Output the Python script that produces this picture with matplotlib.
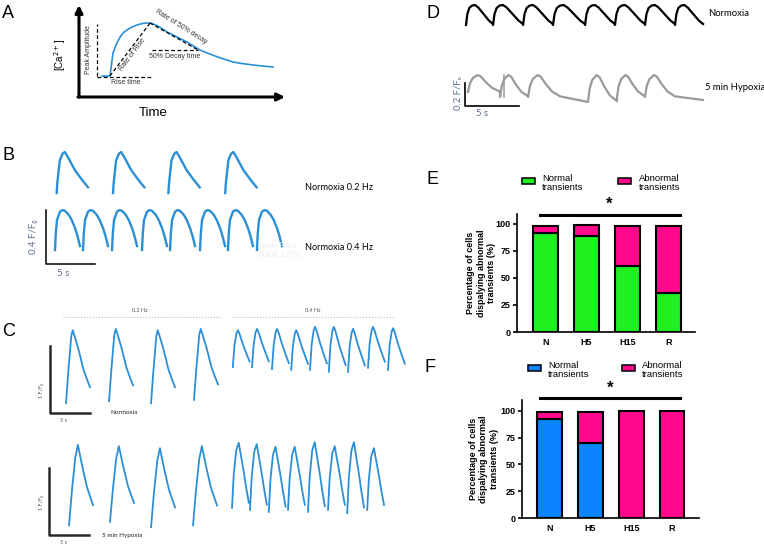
import matplotlib.pyplot as plt
import numpy as np
from matplotlib.patches import Rectangle

W, H = 764, 551
BLUE = '#2b8fd6'
SLATE = '#5a6d8c'
GREEN = '#1ff01f'
PINK = '#ff0a8c'
BAR_BLUE = '#0a84ff'
ARIAL = 'Liberation Sans'
CALIBRI = ['Lato', 'DejaVu Sans']

# ---- panel A: schematic transient (arbitrary units) ----
A_T = [1.12, 1.50, 1.58, 1.65, 1.77, 1.89, 2.02, 2.14, 2.31, 2.48, 2.65, 2.82, 3.01, 3.20,
       3.45, 3.64, 3.83, 4.05, 4.27, 4.52, 4.76, 5.00, 5.24, 5.55, 5.87, 6.23, 6.60,
       7.04, 7.48, 7.97, 8.45, 8.94, 9.42]
A_CA = [0.228, 0.228, 0.36, 0.478, 0.55, 0.609, 0.66, 0.696, 0.726, 0.75, 0.768, 0.783, 0.795, 0.804,
        0.804, 0.790, 0.772, 0.740, 0.707, 0.680, 0.652, 0.625, 0.598, 0.555, 0.511, 0.478, 0.446,
        0.412, 0.380, 0.362, 0.348, 0.336, 0.326]
A_ONSET, A_PEAK_T, A_HALF_T = 1.50, 3.45, 5.78
A_BASE, A_PEAK, A_HALF = 0.228, 0.804, 0.511

# ---- panel B: normoxia 0.2 / 0.4 Hz (s, F/F0) ----
B_TOP_ONSET = [1.7, 7.45, 13.1, 18.9]
B_TOP_BASE, B_TOP_PEAK, B_TOP_DUR = 0.57, 0.874, 3.2
B_BOT_ONSET = [1.53, 4.39, 7.35, 10.41, 13.27, 16.33, 19.18, 22.14]
B_BOT_BASE, B_BOT_PEAK, B_BOT_DUR = 0.148, 0.444, 2.55
B_SHAPE_TOP = ([0, 0.02, 0.1, 0.19, 0.26, 0.37, 0.58, 0.79, 1.0],
               [0, 0.24, 0.8, 0.96, 1.0, 0.86, 0.56, 0.34, 0.14])
B_SHAPE_BOT = ([0, 0.03, 0.08, 0.2, 0.3, 0.4, 0.55, 0.67, 0.8, 0.9, 1.0],
               [0, 0.4, 0.75, 0.96, 1.0, 0.98, 0.88, 0.75, 0.55, 0.35, 0.1])

# ---- panel C: normoxia / 5 min hypoxia at 0.2 and 0.4 Hz ----
C_N02_ONSET = [3.25, 8.63, 13.88, 19.25]
C_N02_BASE = [2.19, 2.22, 2.19, 2.24]
C_N02_PEAK = [3.28, 3.30, 3.28, 3.30]
C_N04_ONSET = [24.1, 26.5, 29.0, 31.4, 33.75, 36.1, 38.5, 41.0, 43.5]
C_N04_BASE = [2.73, 2.73, 2.70, 2.69, 2.69, 2.66, 2.66, 2.72, 2.69]
C_N04_PEAK = [3.28, 3.30, 3.30, 3.28, 3.33, 3.33, 3.30, 3.33, 3.31]
C_H02_ONSET = [3.63, 8.75, 13.88, 19.13]
C_H02_BASE = [0.37, 0.42, 0.34, 0.37]
C_H02_PEAK = [1.57, 1.55, 1.52, 1.55]
C_H04_ONSET = [24.0, 26.25, 28.6, 31.0, 33.5, 36.0, 38.4, 40.9]
C_H04_BASE = [0.63, 0.60, 0.57, 0.60, 0.57, 0.60, 0.55, 0.60]
C_H04_PEAK = [1.60, 1.58, 1.54, 1.54, 1.61, 1.55, 1.61, 1.52]
C_DUR_02, C_DUR_04 = 3.0, 2.1
C_SHAPE_N02 = ([0, 0.1, 0.22, 0.28, 0.375, 0.5, 0.58, 0.72, 0.86, 1.0],
               [0, 0.45, 0.92, 1.0, 0.9, 0.76, 0.66, 0.47, 0.34, 0.22])
C_SHAPE_H02 = ([0, 0.12, 0.26, 0.37, 0.45, 0.56, 0.75, 1.0],
               [0, 0.43, 0.84, 1.0, 0.88, 0.72, 0.47, 0.25])
C_SHAPE_N04 = ([0, 0.1, 0.22, 0.3, 0.4, 0.6, 0.8, 1.0],
               [0, 0.6, 0.92, 1.0, 0.9, 0.62, 0.38, 0.15])
C_SHAPE_H04 = ([0, 0.1, 0.25, 0.4, 0.5, 0.7, 0.85, 1.0],
               [0, 0.5, 0.88, 1.0, 0.85, 0.55, 0.3, 0.08])

# ---- panel D: normoxia vs 5 min hypoxia ----
D_N_ONSET = [1.02, 3.52, 6.30, 9.07, 12.04, 14.81, 17.59, 20.37]
D_N_DUR = [2.5, 2.78, 2.77, 2.97, 2.77, 2.78, 2.78, 2.6]
D_N_BASE, D_N_PEAK = 0.826, 1.0
D_H_ONSET = [1.20, 4.17, 6.76, 12.31, 15.0, 17.59]
D_H_DUR = [2.96, 2.59, 2.96, 2.69, 2.59, 2.78]
D_H_BASE = [0.243, 0.2, 0.2, 0.157, 0.2, 0.2]
D_H_PEAK = 0.391
D_H_TAIL = (22.96, 0.174)
D_H_SPIKE_T = 4.54
D_SHAPE_N = ([0, 0.05, 0.12, 0.22, 0.33, 0.45, 0.65, 0.85, 1.0],
             [0, 0.55, 0.85, 0.97, 1.0, 0.88, 0.55, 0.22, 0.05])
D_SHAPE_H = ([0, 0.06, 0.15, 0.3, 0.4, 0.55, 0.75, 1.0],
             [0, 0.5, 0.82, 1.0, 0.92, 0.6, 0.25, 0.03])

# ---- panels E, F: % of cells ----
CATS = ['N', 'H5', 'H15', 'R']
E_NORMAL = [91, 89, 61, 36]
E_ABNORMAL = [7, 10, 37, 62]
F_NORMAL = [92, 70, 0, 0]
F_ABNORMAL = [7, 29, 100, 100]


def build(onsets, durs, bases, peaks, shape, gap):
    sx, sy = np.array(shape[0]), np.array(shape[1])
    n = len(onsets)
    durs, bases, peaks = [np.broadcast_to(v, n) for v in (durs, bases, peaks)]
    t, y = [], []
    for t0, d, b, p in zip(onsets, durs, bases, peaks):
        t.extend(t0 + d * sx)
        y.extend(b + (p - b) * sy)
        if gap:
            t.append(np.nan)
            y.append(np.nan)
    return t, y


fig = plt.figure(figsize=(W / 100, H / 100), dpi=100)


def px_axes(x0, y0, x1, y1, xlim, ylim, off=True):
    ax = fig.add_axes([x0 / W, 1 - y1 / H, (x1 - x0) / W, (y1 - y0) / H])
    ax.set_xlim(*xlim)
    ax.set_ylim(*ylim)
    if off:
        ax.axis('off')
    return ax


def ptext(x, y, s, **kw):
    fig.text(x / W, 1 - y / H, s, **kw)


for lab, (x, y) in zip('ABCDEF', [(2, 14), (2, 155), (2, 332), (426, 14), (426, 179), (425, 367)]):
    ptext(x, y, lab, fontsize=13, family=ARIAL, va='center')

# ---- A ----
axa = px_axes(79, 5, 285, 97, (0, 10), (0, 1))
axa.plot(A_T, A_CA, color=BLUE, lw=1.2)
dash = dict(color='k', lw=0.9, ls=(0, (3, 2)))
axa.plot([0.87, 0.87], [A_BASE, A_PEAK - 0.01], **dash)
axa.plot([0.87, A_PEAK_T + 0.1], [A_BASE - 0.011] * 2, **dash)
axa.plot([A_ONSET, A_PEAK_T], [A_BASE, A_PEAK], **dash)
axa.plot([A_PEAK_T, A_HALF_T], [A_PEAK, A_HALF], **dash)
axa.plot([A_PEAK_T + 0.1, A_HALF_T], [A_HALF, A_HALF], **dash)
arrow = dict(arrowstyle='-|>', lw=2.2, color='k', mutation_scale=11, shrinkA=0, shrinkB=0)
axa.annotate('', xy=(0, 1), xytext=(0, 0), xycoords='axes fraction', arrowprops=arrow,
             annotation_clip=False)
axa.annotate('', xy=(1, 0), xytext=(-0.005, 0), xycoords='axes fraction', arrowprops=arrow,
             annotation_clip=False)
small = dict(fontsize=5, family=ARIAL, color='#333333')
ptext(89, 50, 'Peak Amplitude', rotation=90, ha='center', va='center', **small)
ptext(126, 83, 'Rise time', ha='center', va='center', **small)
ptext(133, 55, 'Rate of Rise', rotation=53, ha='center', va='center', **small)
ptext(181, 27, 'Rate of 50% decay', rotation=-32, ha='center', va='center', **small)
ptext(175, 57, '50% Decay time', ha='center', va='center', **small)
ptext(60, 55, '[Ca$^{2+}$]', rotation=90, ha='center', va='center', fontsize=7, family=ARIAL)
ptext(153, 113, 'Time', ha='center', va='center', fontsize=9.5, family=ARIAL)

# ---- B ----
axb = px_axes(40, 140, 300, 270, (0, 260 / 9.8), (0, 130 / 135))
t, y = build(B_TOP_ONSET, B_TOP_DUR, B_TOP_BASE, B_TOP_PEAK, B_SHAPE_TOP, True)
axb.plot(t, y, color=BLUE, lw=1.7, solid_joinstyle='round')
t, y = build(B_BOT_ONSET, B_BOT_DUR, B_BOT_BASE, B_BOT_PEAK, B_SHAPE_BOT, True)
axb.plot(t, y, color=BLUE, lw=1.7, solid_joinstyle='round')
axb.plot([0.61, 0.61, 5.61], [0.044 + 0.4, 0.044, 0.044], color='k', lw=1.1)
ptext(33, 237, '0.4 F/F₀', rotation=90, ha='center', va='center', fontsize=7, family=CALIBRI, color=SLATE)
ptext(63, 273, '5 s', ha='center', va='center', fontsize=7, family=CALIBRI, color=SLATE)
ptext(305, 188, 'Normoxia 0.2 Hz', va='center', fontsize=6.6, family=CALIBRI)
ptext(305, 247, 'Normoxia 0.4 Hz', va='center', fontsize=6.6, family=CALIBRI)
ptext(259, 245, 'Series Point', va='center', fontsize=5, family=CALIBRI, color='#ececec')
ptext(259, 254, '(1808, 1.098)', va='center', fontsize=5, family=CALIBRI, color='#ececec')

# ---- C ----
axc = px_axes(40, 300, 410, 550, (0, 370 / 8), (0, 250 / 67))
for on, base, peak, dur, shape in [(C_N02_ONSET, C_N02_BASE, C_N02_PEAK, C_DUR_02, C_SHAPE_N02),
                                   (C_N04_ONSET, C_N04_BASE, C_N04_PEAK, C_DUR_04, C_SHAPE_N04),
                                   (C_H02_ONSET, C_H02_BASE, C_H02_PEAK, C_DUR_02, C_SHAPE_H02),
                                   (C_H04_ONSET, C_H04_BASE, C_H04_PEAK, C_DUR_04, C_SHAPE_H04)]:
    t, y = build(on, dur, base, peak, shape, True)
    axc.plot(t, y, color=BLUE, lw=1.3, solid_joinstyle='round')
axc.plot([1.25, 1.25, 6.25], [3.045, 2.045, 2.045], color='#2a2a2a', lw=1.8)
axc.plot([1.125, 1.125, 6.125], [1.224, 0.224, 0.224], color='#2a2a2a', lw=1.8)
axc.plot([2.9, 22.75], [3.48, 3.48], color='#a9bccd', lw=0.8, ls=':')
axc.plot([24.1, 44.1], [3.48, 3.48], color='#a9bccd', lw=0.8, ls=':')
tiny = dict(fontsize=4, family=CALIBRI, color='#555555', ha='center', va='center')
ptext(140, 310, '0.2 Hz', **tiny)
ptext(313, 311, '0.4 Hz', **tiny)
ptext(41, 390, '1 F/F₀', rotation=90, **tiny)
ptext(64, 421, '5 s', **tiny)
ptext(41, 503, '1 F/F₀', rotation=90, **tiny)
ptext(64, 543, '5 s', **tiny)
ptext(110, 413, 'Normoxia', fontsize=4.5, family=CALIBRI, color='#222222', va='center')
ptext(102, 536, '5 min Hypoxia', fontsize=4.5, family=CALIBRI, color='#222222', va='center')

# ---- D ----
axd = px_axes(455, 0, 710, 120, (0, 255 / 10.8), (0, 120 / 115))
t, y = build(D_N_ONSET, D_N_DUR, D_N_BASE, D_N_PEAK, D_SHAPE_N, False)
axd.plot(t, y, color='k', lw=1.6, clip_on=False, solid_joinstyle='round')
t, y = build(D_H_ONSET, D_H_DUR, D_H_BASE, D_H_PEAK, D_SHAPE_H, False)
axd.plot(t + [D_H_TAIL[0]], y + [D_H_TAIL[1]], color='#9a9a9a', lw=1.6, solid_joinstyle='round')
axd.plot([D_H_SPIKE_T] * 2, [0.2, D_H_PEAK], color='#9a9a9a', lw=1.1)
axd.plot([0.93, 0.93, 5.93], [0.322, 0.122, 0.122], color='k', lw=1.2)
ptext(458, 93, '0.2 F/F₀', rotation=90, ha='center', va='center', fontsize=6.8, family=CALIBRI, color=SLATE)
ptext(482, 113, '5 s', ha='center', va='center', fontsize=6.8, family=CALIBRI, color=SLATE)
ptext(708, 14, 'Normoxia', va='center', fontsize=6.8, family=CALIBRI)
ptext(705, 88, '5 min Hypoxia', va='center', fontsize=6.8, family=CALIBRI)


# ---- E, F ----
def bar_panel(box, xlim, ylim_top, normal, abnormal, ncolor, sig, ylab_x, legend_y, legend_x):
    ax = px_axes(*box, xlim, (0, ylim_top), off=False)
    x = np.arange(len(CATS))
    ax.bar(x, normal, width=0.61, color=ncolor, edgecolor='k', lw=1.5)
    ax.bar(x, abnormal, bottom=normal, width=0.61, color=PINK, edgecolor='k', lw=1.5)
    for s in ['top', 'right']:
        ax.spines[s].set_visible(False)
    for s in ['left', 'bottom']:
        ax.spines[s].set_linewidth(1.2)
    ax.set_yticks([0, 25, 50, 75, 100])
    ax.tick_params(axis='y', labelsize=6.5, width=1.2, length=3, pad=1.5)
    ax.set_xticks(x, CATS)
    ax.tick_params(axis='x', labelsize=6.5, length=0, pad=4)
    for lab in ax.get_xticklabels() + ax.get_yticklabels():
        lab.set_fontweight('bold')
        lab.set_family(ARIAL)
    (x0, x1, yline, xs, ys) = sig
    ax.plot([x0, x1], [yline, yline], color='k', lw=2.2, clip_on=False)
    ax.text(xs, ys, '*', ha='center', va='center', fontsize=12, fontweight='bold', family=ARIAL)
    yc = (box[1] + box[3]) / 2
    ptext(ylab_x, yc, 'Percentage of cells\ndispalying abnormal\ntransients (%)', rotation=90,
          ha='center', va='center', multialignment='center', fontsize=6.5, fontweight='bold',
          family=ARIAL, linespacing=1.15)
    for (bx, tx), c, lab in zip(legend_x, [ncolor, PINK], ['Normal\ntransients', 'Abnormal\ntransients']):
        fig.add_artist(Rectangle((bx / W, 1 - (legend_y + 6) / H), 13 / W, 6 / H,
                                 transform=fig.transFigure, fc=c, ec='k', lw=1.1))
        ptext(tx, legend_y - 4, lab, va='top', fontsize=6.8, family=ARIAL, linespacing=1.05)
    return ax


bar_panel((517, 214, 695, 332), (-0.695, 3.65), 109, E_NORMAL, E_ABNORMAL, GREEN,
          (-0.13, 3.28, 108, 1.55, 118), 481, 178, [(522, 542), (618, 639)])
bar_panel((522, 400, 699, 518), (-0.67, 3.66), 110, F_NORMAL, F_ABNORMAL, BAR_BLUE,
          (-0.23, 3.2, 111.5, 1.48, 121), 484, 365, [(528, 548), (622, 642)])

fig.savefig('out.png', dpi=100)
